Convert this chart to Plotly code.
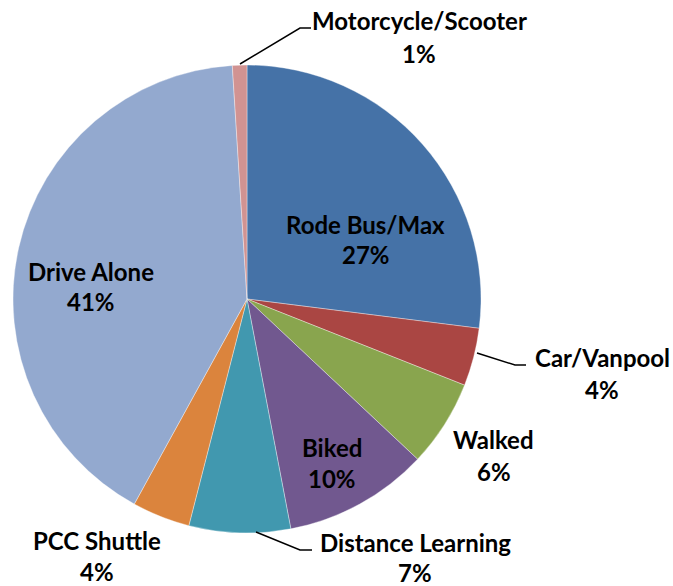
import plotly.graph_objects as go

# ---- data ----
categories = ["Rode Bus/Max", "Car/Vanpool", "Walked", "Biked",
              "Distance Learning", "PCC Shuttle", "Drive Alone", "Motorcycle/Scooter"]
shares = [27, 4, 6, 10, 7, 4, 41, 1]

# ---- style ----
colors = ["#4572A7", "#AA4643", "#89A54E", "#71588F",
          "#4198AF", "#DB843D", "#93A9CF", "#D19392"]

W, H = 673, 586
FONT = "Lato, 'Liberation Sans', Arial, sans-serif"
FS = 24

def X(px):
    return px / W

def Y(py):
    return 1 - py / H

# label placement in pixels: (center x, name line y, percent line y)
label_pos = {
    "Rode Bus/Max": (366, 224, 255),
    "Car/Vanpool": (602, 357, 389),
    "Walked": (494, 439, 471),
    "Biked": (332, 447, 478),
    "Distance Learning": (415, 542, 572),
    "PCC Shuttle": (97, 540, 571),
    "Drive Alone": (91, 271, 301),
    "Motorcycle/Scooter": (419, 21, 53),
}

# leader lines in pixels
leaders = {
    "Motorcycle/Scooter": [(240, 64), (300, 28), (311, 28)],
    "Car/Vanpool": [(477, 353), (515, 365), (526, 365)],
    "Distance Learning": [(256, 532), (300, 550), (312, 550)],
}

fig = go.Figure(go.Pie(
    labels=categories,
    values=shares,
    sort=False,
    direction="clockwise",
    rotation=0,
    marker=dict(colors=colors, line=dict(color="rgba(255,255,255,0.6)", width=0.6)),
    textinfo="none",
    hoverinfo="label+percent",
    showlegend=False,
    domain=dict(x=[X(13), X(481)], y=[Y(533), Y(65)]),
))

annotations = []
for cat, val in zip(categories, shares):
    cx, y1, y2 = label_pos[cat]
    for txt, yy in ((cat, y1), (f"{val}%", y2)):
        annotations.append(dict(
            x=X(cx), y=Y(yy), xref="paper", yref="paper",
            text=txt, showarrow=False, xanchor="center", yanchor="middle",
            font=dict(family=FONT, size=FS, color="#000000", weight="bold"),
        ))

shapes = []
for cat, pts in leaders.items():
    path = "M " + " L ".join(f"{X(px)},{Y(py)}" for px, py in pts)
    shapes.append(dict(type="path", path=path, xref="paper", yref="paper",
                       line=dict(color="#000000", width=1.5)))

fig.update_layout(
    width=W, height=H,
    margin=dict(l=0, r=0, t=0, b=0),
    paper_bgcolor="white", plot_bgcolor="white",
    annotations=annotations,
    shapes=shapes,
)

fig.write_html(
    "out.html",
    config={"displayModeBar": False},
    post_script="document.body.style.margin='0';document.body.style.overflow='hidden';",
)
